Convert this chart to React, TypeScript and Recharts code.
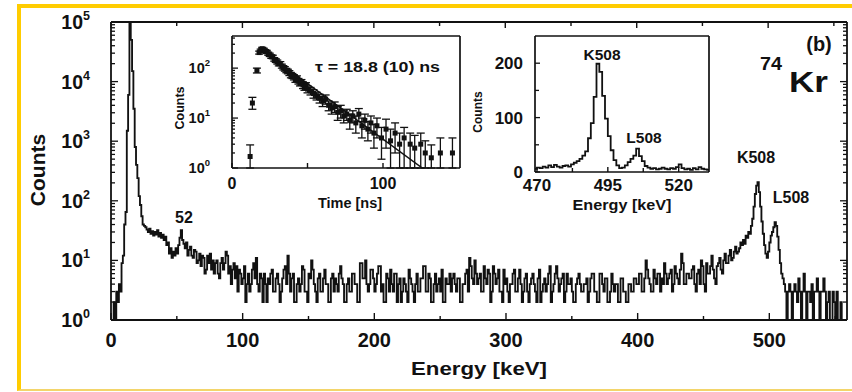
import React from 'react';
import { ComposedChart, Line, Scatter, ErrorBar, XAxis, YAxis } from 'recharts';

const FONT = '"Liberation Sans", Arial, Helvetica, sans-serif';
const INK = '#111111';
const GOLD = '#FFCC00';

// ---------------- Main spectrum (1 keV bins from 0 keV) ----------------
const mainBinStartKeV = 0;
const mainBinWidthKeV = 1;
const mainCounts = [
  1, 1, 2, 1, 3, 2, 4, 3, 9, 12, 40, 65, 1500, 6000, 150000, 50000, 15000, 3500, 800, 400,
  240, 120, 85, 55, 40, 38, 36, 33, 30, 34, 28, 31, 26, 30, 27, 32, 25, 29, 24, 27,
  22, 25, 18, 20, 13, 16, 11, 14, 12, 16, 13, 18, 24, 32, 22, 19, 16, 20, 12, 15,
  17, 12, 11, 15, 14, 9, 10, 13, 8, 12, 11, 6, 7, 12, 9, 13, 7, 10, 6, 9,
  10, 6, 5, 9, 11, 7, 9, 14, 12, 6, 8, 4, 7, 9, 5, 8, 3, 7, 6, 4,
  5, 8, 2, 4, 6, 3, 4, 7, 9, 5, 11, 4, 3, 6, 5, 2, 6, 4, 2, 5,
  4, 6, 7, 3, 3, 5, 6, 4, 2, 3, 5, 7, 8, 4, 12, 6, 3, 5, 6, 2,
  2, 4, 5, 3, 4, 8, 7, 3, 3, 2, 6, 5, 10, 7, 4, 3, 2, 5, 6, 3,
  3, 5, 7, 4, 4, 2, 2, 5, 6, 3, 5, 4, 3, 6, 8, 5, 4, 2, 2, 4,
  5, 3, 3, 6, 6, 4, 4, 2, 2, 9, 9, 5, 5, 10, 4, 3, 4, 7, 7, 5,
  3, 4, 6, 8, 8, 3, 4, 2, 2, 6, 5, 3, 7, 4, 3, 6, 6, 2, 4, 5,
  2, 3, 5, 4, 3, 2, 7, 5, 4, 3, 2, 4, 6, 3, 3, 5, 5, 8, 8, 3,
  3, 6, 5, 2, 2, 4, 6, 3, 4, 5, 3, 7, 2, 2, 5, 4, 4, 6, 3, 5,
  6, 4, 3, 5, 5, 2, 2, 4, 4, 6, 7, 3, 11, 8, 5, 4, 10, 6, 4, 5,
  6, 3, 3, 8, 5, 4, 7, 6, 2, 3, 8, 6, 4, 5, 7, 3, 3, 2, 7, 4,
  5, 3, 2, 4, 4, 6, 7, 3, 3, 5, 7, 4, 2, 3, 5, 6, 3, 2, 4, 5,
  6, 4, 3, 2, 5, 7, 2, 3, 4, 5, 3, 4, 6, 8, 2, 3, 4, 6, 8, 5,
  3, 4, 5, 6, 2, 3, 6, 4, 4, 5, 3, 2, 2, 4, 5, 6, 4, 3, 3, 4,
  4, 5, 2, 3, 5, 6, 6, 3, 3, 2, 2, 6, 6, 4, 3, 5, 5, 2, 2, 3,
  6, 4, 3, 4, 4, 2, 2, 5, 5, 3, 3, 2, 2, 4, 4, 3, 3, 5, 5, 4,
  4, 6, 6, 3, 3, 5, 10, 7, 5, 4, 3, 3, 7, 5, 4, 6, 6, 3, 5, 4,
  9, 6, 4, 5, 6, 7, 3, 4, 8, 6, 5, 4, 7, 13, 9, 4, 4, 6, 6, 5,
  5, 7, 8, 4, 3, 6, 7, 4, 10, 8, 4, 3, 9, 6, 6, 8, 12, 7, 5, 4,
  8, 9, 11, 7, 6, 10, 13, 9, 9, 12, 15, 10, 11, 14, 17, 13, 14, 16, 20, 18,
  22, 19, 26, 24, 30, 28, 38, 50, 80, 130, 180, 206, 140, 80, 45, 28, 18, 13, 11, 14,
  20, 26, 30, 36, 44, 38, 25, 15, 9, 6, 5, 4, 3, 1, 3, 4, 3, 1, 3, 4,
  3, 2, 5, 3, 1, 3, 6, 3, 1, 3, 3, 2, 4, 1, 3, 3, 5, 3, 1, 3,
  3, 5, 3, 1, 2, 3, 1, 1, 3, 2, 1, 3, 1, 1, 2, 1, 1, 1, 1, 1,
];
const mainXTicks = [0, 50, 100, 150, 200, 250, 300, 350, 400, 450, 500, 550];
const mainXMajor = [0, 100, 200, 300, 400, 500];
const mainYDecades = [1, 10, 100, 1000, 10000];
const mainYTop = 100000;

// ---------------- Inset: lifetime ----------------
const timeNs = [12, 13.5, 16.5,
  18, 19, 20, 21, 22, 23, 24, 25, 26, 27, 28, 29, 30, 31, 32, 33, 34, 35, 36, 37, 38, 39, 40, 41, 42, 43, 44, 45, 46, 47, 48, 49, 50,
  52, 54, 56, 58, 60, 62, 64, 66, 68, 70, 72, 74, 76, 78, 80,
  82, 84, 86, 88, 90, 92, 94, 96,
  99, 102, 105, 108, 111, 114, 118, 121, 125, 128, 132, 138, 146];
const timeCounts = [1.7, 20, 90,
  205, 225, 245, 235, 220, 212, 195, 185, 170, 168, 150, 142, 133, 122, 124, 110, 102, 97, 90, 86, 80, 73, 70, 66, 60, 62, 55, 51, 52, 46, 43, 44, 38,
  35, 31, 28, 25, 22, 24, 18, 16, 17, 13, 14, 11, 12, 9, 11,
  8, 12, 7, 9, 6, 8, 5, 7,
  4, 6, 3.5, 5, 3, 4, 3, 2.5, 3, 2, 1.6, 2, 2];
const timeErrLow = [0.7, 5, 10,
  14, 15, 16, 15, 15, 15, 14, 14, 13, 13, 12, 12, 12, 11, 11, 10, 10, 10, 9, 9, 9, 9, 8, 8, 8, 8, 7, 7, 7, 7, 7, 7, 6,
  6, 6, 5, 5, 5, 5, 4, 4, 4, 4, 4, 3, 3, 3, 3,
  3, 3.5, 3, 3, 2.5, 3, 2.5, 3,
  2.5, 3.5, 2.5, 3, 2, 3, 2, 1.5, 2, 1, 0.6, 1, 1];
const timeErrHigh = [1.2, 6, 10,
  14, 15, 16, 15, 15, 15, 14, 14, 13, 13, 12, 12, 12, 11, 11, 10, 10, 10, 9, 9, 9, 9, 8, 8, 8, 8, 7, 7, 7, 7, 7, 7, 6,
  6, 6, 5, 5, 5, 5, 4, 4, 4, 4, 4, 3, 3, 3, 3,
  3, 3.5, 3, 3, 2.5, 3, 2.5, 3,
  2.5, 3.5, 2.5, 3, 2, 2.5, 2, 2, 2, 1.5, 1.3, 2, 2];
const fitTimeNs = [19, 126];
const fitCounts = [240, 1];
const timeXTicks = [0, 50, 100];
const timeXLabelled = [0, 100];
const timeYDecades = [1, 10, 100];
const timeYTop = 440;

// ---------------- Inset: energy zoom (1 keV bins from 469 keV) ----------------
const zoomStartKeV = 469;
const zoomCounts = [
  6, 8, 7, 10, 8, 12, 9, 13, 10, 8,
  11, 12, 10, 14, 17, 20, 24, 30, 38, 62,
  90, 138, 199, 184, 140, 98, 66, 40, 22, 12,
  7, 8, 12, 18, 24, 30, 43, 29, 20, 11,
  8, 6, 7, 5, 6, 8, 6, 5, 7, 6,
  9, 14, 7, 5, 6, 4, 7, 5, 9, 6,
  5, 4,
];
const zoomXTicks = [470, 482.5, 495, 507.5, 520];
const zoomXLabelled = [470, 495, 520];
const zoomYTicks = [0, 50, 100, 150, 200];
const zoomYLabelled = [0, 100, 200];

// ---------------- build tables ----------------
const mainData = mainCounts.map((c, i) => ({ e: mainBinStartKeV + i * mainBinWidthKeV, c }));
mainData.push({ e: mainBinStartKeV + mainCounts.length * mainBinWidthKeV, c: mainCounts[mainCounts.length - 1] });

const timeData = timeNs.map((t, i) => ({ t, c: timeCounts[i], err: [timeErrLow[i], timeErrHigh[i]] }));
const fitData = fitTimeNs.map((t, i) => ({ t, c: fitCounts[i] }));

const zoomData = zoomCounts.map((c, i) => ({ e: zoomStartKeV + i, c }));
zoomData.push({ e: zoomStartKeV + zoomCounts.length, c: zoomCounts[zoomCounts.length - 1] });

function logTicks(decades: number[], top: number) {
  const out: number[] = [];
  decades.forEach((d) => {
    for (let m = 1; m <= 9; m++) {
      const v = d * m;
      if (v <= top) out.push(v);
    }
  });
  return out;
}
const mainYTicks = [...logTicks(mainYDecades, mainYTop), mainYTop];
const timeYTicks = logTicks(timeYDecades, timeYTop);

const near = (arr: number[], v: number) => arr.some((m) => Math.abs(m - v) < 1e-6);

function xTick(side: 'bottom' | 'top', majors: number[], labelled: number[], majorLen: number, minorLen: number, fontSize: number, labelDy: number) {
  return (props: any) => {
    const { x, y, payload } = props;
    const v = payload.value;
    const len = near(majors, v) ? majorLen : minorLen;
    const dir = side === 'bottom' ? -1 : 1;
    return (
      <g>
        <line x1={x} x2={x} y1={y} y2={y + dir * len} stroke={INK} strokeWidth={1.4} />
        {near(labelled, v) && (
          <text x={x} y={y + labelDy} textAnchor="middle" fontFamily={FONT} fontWeight="bold" fontSize={fontSize} fill={INK}>
            {v}
          </text>
        )}
      </g>
    );
  };
}

function logYTick(side: 'left' | 'right', labelled: boolean, majorLen: number, minorLen: number, fontSize: number, supSize: number, gap: number, baseDy: number, supDy: number) {
  return (props: any) => {
    const { x, y, payload } = props;
    const v = payload.value;
    const e = Math.round(Math.log10(v));
    const isMajor = Math.abs(v - Math.pow(10, e)) < 1e-6 * v;
    const dir = side === 'left' ? 1 : -1;
    return (
      <g>
        <line x1={x} x2={x + dir * (isMajor ? majorLen : minorLen)} y1={y} y2={y} stroke={INK} strokeWidth={1.3} />
        {labelled && isMajor && (
          <text x={x - gap} y={y + baseDy} textAnchor="end" fontFamily={FONT} fontWeight="bold" fontSize={fontSize} fill={INK}>
            10<tspan dy={supDy} fontSize={supSize}>{e}</tspan>
          </text>
        )}
      </g>
    );
  };
}

function linYTick(majors: number[], labelled: number[], majorLen: number, minorLen: number, fontSize: number, gap: number, baseDy: number) {
  return (props: any) => {
    const { x, y, payload } = props;
    const v = payload.value;
    return (
      <g>
        <line x1={x} x2={x + (near(majors, v) ? majorLen : minorLen)} y1={y} y2={y} stroke={INK} strokeWidth={1.3} />
        {near(labelled, v) && (
          <text x={x - gap} y={y + baseDy} textAnchor="end" fontFamily={FONT} fontWeight="bold" fontSize={fontSize} fill={INK}>
            {v}
          </text>
        )}
      </g>
    );
  };
}

const frame = { stroke: INK, strokeWidth: 1.8 };
const boxFrame = { stroke: INK, strokeWidth: 1.7 };

const Square = (p: any) => (
  <rect x={p.cx - 2.5} y={p.cy - 2.5} width={5} height={5} fill={INK} />
);

const T = (props: any) => (
  <text fontFamily={FONT} fontWeight="bold" fill={INK} {...props} />
);

export default function App() {
  return (
    <div style={{ position: 'absolute', left: 0, top: 0, width: 852, height: 392, overflow: 'hidden', background: '#ffffff' }}>
      <div
        style={{
          position: 'absolute', left: 17, top: 4, width: 835, height: 387, boxSizing: 'border-box',
          borderTop: `4px solid ${GOLD}`, borderLeft: `4px solid ${GOLD}`, borderBottom: `2px solid #F3D56A`,
        }}
      />

      {/* main spectrum */}
      <div style={{ position: 'absolute', left: 0, top: 0 }}>
        <ComposedChart width={852} height={392} data={mainData} margin={{ top: 21, right: 4, bottom: 71, left: 110 }}>
          <XAxis dataKey="e" type="number" domain={[0, 559]} allowDataOverflow ticks={mainXTicks} interval={0}
            height={1} tickSize={0} tickMargin={0} tickLine={false} axisLine={frame}
            tick={xTick('bottom', mainXMajor, mainXMajor, 7, 4, 20, 27)} />
          <XAxis xAxisId="top" orientation="top" type="number" domain={[0, 559]} allowDataOverflow ticks={mainXTicks} interval={0}
            height={1} tickSize={0} tickMargin={0} tickLine={false} axisLine={frame}
            tick={xTick('top', mainXMajor, [], 6, 4, 20, 0)} />
          <YAxis type="number" scale="log" domain={[1, mainYTop]} allowDataOverflow ticks={mainYTicks} interval={0}
            width={1} tickSize={0} tickMargin={0} tickLine={false} axisLine={frame}
            tick={logYTick('left', true, 7, 4, 19.5, 12.5, 21, 7, -9)} />
          <YAxis yAxisId="right" orientation="right" type="number" scale="log" domain={[1, mainYTop]} allowDataOverflow ticks={mainYTicks} interval={0}
            width={1} tickSize={0} tickMargin={0} tickLine={false} axisLine={frame}
            tick={logYTick('right', false, 7, 4, 19, 12, 20, 7, -9)} />
          <Line type="stepAfter" dataKey="c" stroke={INK} strokeWidth={1.85} dot={false} isAnimationActive={false} />
        </ComposedChart>
      </div>

      {/* lifetime inset */}
      <div style={{ position: 'absolute', left: 160, top: 28 }}>
        <ComposedChart width={310} height={190} margin={{ top: 7, right: 9, bottom: 49, left: 71 }}>
          <XAxis dataKey="t" type="number" domain={[0, 151]} allowDataOverflow ticks={timeXTicks} interval={0}
            height={1} tickSize={0} tickMargin={0} tickLine={false} axisLine={boxFrame}
            tick={xTick('bottom', timeXTicks, timeXLabelled, 5, 4, 16, 21)} />
          <XAxis xAxisId="top" orientation="top" type="number" domain={[0, 151]} allowDataOverflow
            height={1} tick={false} tickLine={false} axisLine={boxFrame} />
          <YAxis dataKey="c" type="number" scale="log" domain={[1, timeYTop]} allowDataOverflow ticks={timeYTicks} interval={0}
            width={1} tickSize={0} tickMargin={0} tickLine={false} axisLine={boxFrame}
            tick={logYTick('left', true, 6, 3, 14.5, 9.5, 22, 5, -7)} />
          <YAxis yAxisId="right" orientation="right" type="number" scale="log" domain={[1, timeYTop]} allowDataOverflow
            width={1} tick={false} tickLine={false} axisLine={boxFrame} />
          <Line data={fitData} dataKey="c" type="linear" stroke={INK} strokeWidth={1.5} dot={false} isAnimationActive={false} />
          <Scatter data={timeData} fill={INK} shape={Square} isAnimationActive={false}>
            <ErrorBar dataKey="err" direction="y" width={4} stroke={INK} strokeWidth={1.3} />
          </Scatter>
        </ComposedChart>
      </div>

      {/* energy zoom inset */}
      <div style={{ position: 'absolute', left: 465, top: 28 }}>
        <ComposedChart width={255} height={190} data={zoomData} margin={{ top: 7, right: 10, bottom: 45, left: 69 }}>
          <XAxis dataKey="e" type="number" domain={[469.3, 530.7]} allowDataOverflow ticks={zoomXTicks} interval={0}
            height={1} tickSize={0} tickMargin={0} tickLine={false} axisLine={boxFrame}
            tick={xTick('bottom', zoomXLabelled, zoomXLabelled, 5, 4, 17, 19)} />
          <XAxis xAxisId="top" orientation="top" type="number" domain={[469.3, 530.7]} allowDataOverflow
            height={1} tick={false} tickLine={false} axisLine={boxFrame} />
          <YAxis type="number" domain={[0, 250]} allowDataOverflow ticks={zoomYTicks} interval={0}
            width={1} tickSize={0} tickMargin={0} tickLine={false} axisLine={boxFrame}
            tick={linYTick(zoomYLabelled, zoomYLabelled, 5, 4, 17, 12, 6)} />
          <YAxis yAxisId="right" orientation="right" type="number" domain={[0, 250]} allowDataOverflow
            width={1} tick={false} tickLine={false} axisLine={boxFrame} />
          <Line type="stepAfter" dataKey="c" stroke={INK} strokeWidth={1.8} dot={false} isAnimationActive={false} />
        </ComposedChart>
      </div>

      {/* text overlay */}
      <svg width={852} height={392} style={{ position: 'absolute', left: 0, top: 0, pointerEvents: 'none' }}>
        <T x={0} y={0} fontSize={21} textAnchor="middle" transform="translate(45,170) rotate(-90)">Counts</T>
        <T x={479} y={375} fontSize={19} textAnchor="middle" textLength={136} lengthAdjust="spacingAndGlyphs">Energy [keV]</T>

        <T x={0} y={0} fontSize={12.5} textAnchor="middle" transform="translate(184,108) rotate(-90)">Counts</T>
        <T x={350} y={208} fontSize={14.5} textAnchor="middle">Time [ns]</T>
        <T x={315} y={72} fontSize={14} textLength={125} lengthAdjust="spacingAndGlyphs">τ = 18.8 (10) ns</T>

        <T x={0} y={0} fontSize={12} textAnchor="middle" transform="translate(482,112) rotate(-90)">Counts</T>
        <T x={622} y={210} fontSize={15.5} textAnchor="middle" textLength={99} lengthAdjust="spacingAndGlyphs">Energy [keV]</T>
        <T x={602} y={60} fontSize={15.5} textAnchor="middle">K508</T>
        <T x={644} y={143} fontSize={15.5} textAnchor="middle">L508</T>

        <T x={819} y={51} fontSize={20} textAnchor="middle">(b)</T>
        <T x={760} y={70} fontSize={18} textLength={22} lengthAdjust="spacingAndGlyphs">74</T>
        <T x={789} y={92} fontSize={29} textLength={39} lengthAdjust="spacingAndGlyphs">Kr</T>
        <T x={756} y={163} fontSize={16} textAnchor="middle">K508</T>
        <T x={791} y={203} fontSize={16} textAnchor="middle">L508</T>
        <T x={184} y={223} fontSize={16} textAnchor="middle">52</T>
      </svg>
    </div>
  );
}
